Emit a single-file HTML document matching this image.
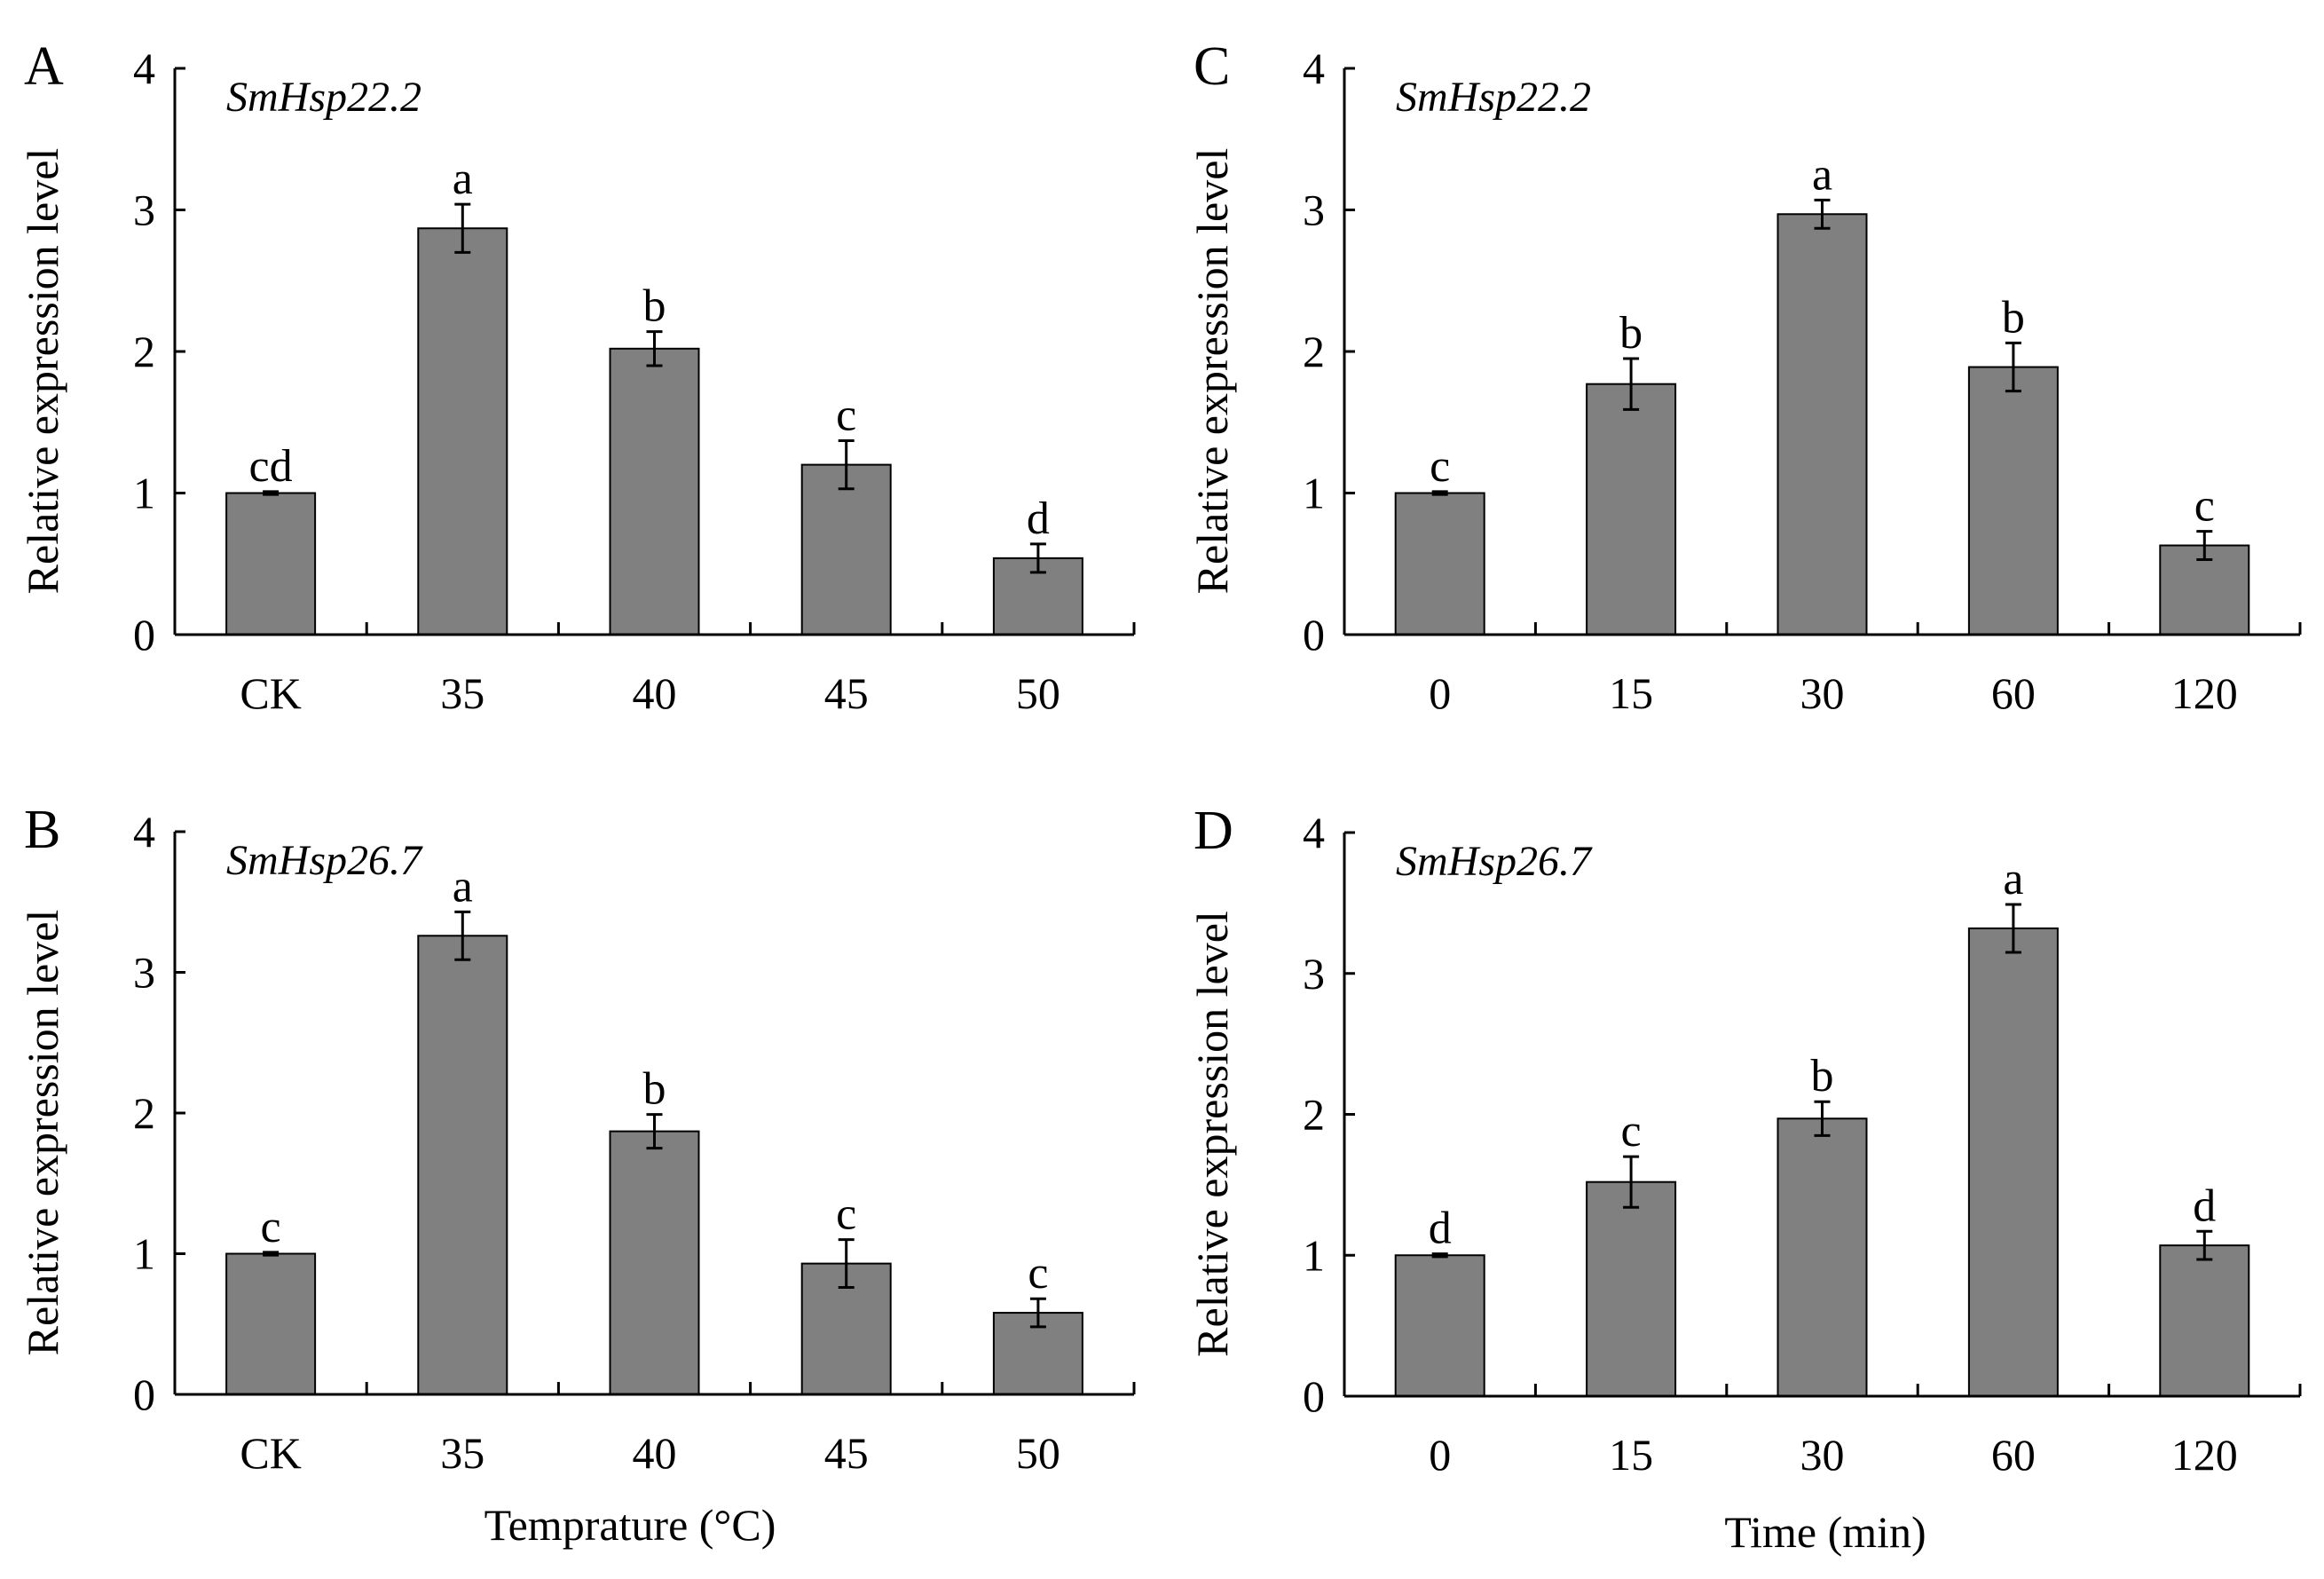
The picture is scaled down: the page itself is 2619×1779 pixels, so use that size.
<!DOCTYPE html>
<html><head><meta charset="utf-8"><style>
body{margin:0;background:#fff}
svg{display:block}
text{font-family:"Liberation Serif",serif;fill:#000}
</style></head><body>
<svg id="fig" width="2619" height="1779" viewBox="0 0 2619 1779"></svg>
<script>
const tempCats = ["CK","35","40","45","50"];
const timeCats = ["0","15","30","60","120"];
const yTicks = [0,1,2,3,4];
const aVals = [1.0,2.87,2.02,1.2,0.54];
const aErr = [0.01,0.17,0.12,0.17,0.1];
const aSig = ["cd","a","b","c","d"];
const bVals = [1.0,3.26,1.87,0.93,0.58];
const bErr = [0.01,0.17,0.12,0.17,0.1];
const bSig = ["c","a","b","c","c"];
const cVals = [1.0,1.77,2.97,1.89,0.63];
const cErr = [0.01,0.18,0.1,0.17,0.1];
const cSig = ["c","b","a","b","c"];
const dVals = [1.0,1.52,1.97,3.32,1.07];
const dErr = [0.01,0.18,0.12,0.17,0.1];
const dSig = ["d","c","b","a","d"];

const NS="http://www.w3.org/2000/svg";
const svg=document.getElementById('fig');
function mk(tag,attrs,parent,txt){const e=document.createElementNS(NS,tag);for(const k in attrs)e.setAttribute(k,attrs[k]);if(txt!==undefined)e.textContent=txt;(parent||svg).appendChild(e);return e;}

function panel(id,letter,gene,cats,vals,errs,sigs,x0,x1,yTop,y0){
  const g=mk('g',{});
  
  
  const ys=v=>y0-(v/4)*(y0-yTop);
  const step=(x1-x0)/cats.length;
  const xs=i=>x0+step*(i+0.5);
  const bw=100;
  vals.forEach((v,i)=>{
    const r=mk('rect',{x:xs(i)-bw/2,y:ys(v),width:bw,height:y0-ys(v),fill:'#808080',stroke:'#000','stroke-width':2},g);
    
    
    const e=errs[i];
    const eg=mk('g',{stroke:'#000','stroke-width':3},g);
    
    
    mk('line',{x1:xs(i),x2:xs(i),y1:ys(v+e),y2:ys(v-e)},eg);
    mk('line',{x1:xs(i)-9,x2:xs(i)+9,y1:ys(v+e),y2:ys(v+e)},eg);
    mk('line',{x1:xs(i)-9,x2:xs(i)+9,y1:ys(v-e),y2:ys(v-e)},eg);
    const s=mk('text',{x:xs(i),y:ys(v+e)-12,'text-anchor':'middle','font-size':52},g,sigs[i]);
    
    
    const c=mk('text',{x:xs(i),y:y0+83,'text-anchor':'middle','font-size':50},g,cats[i]);
    
    
  });
  const ax=mk('g',{stroke:'#000','stroke-width':3,fill:'none'},g);
  
  
  mk('line',{x1:x0,x2:x0,y1:yTop,y2:y0},ax);
  mk('line',{x1:x0,x2:x1,y1:y0,y2:y0},ax);
  for(let i=1;i<=cats.length;i++){mk('line',{x1:x0+step*i,x2:x0+step*i,y1:y0,y2:y0-14},ax);}
  yTicks.forEach(t=>{
    mk('line',{x1:x0,x2:x0+12,y1:ys(t),y2:ys(t)},ax);
    const tl=mk('text',{x:x0-22,y:ys(t)+17,'text-anchor':'end','font-size':50},g,t);
    
    
  });
  const yt=mk('text',{transform:`translate(${x0-132},${(yTop+y0)/2+22}) rotate(-90)`,'text-anchor':'middle','font-size':50},g,'Relative expression level');
  
  
  const pl=mk('text',{x:x0-170,y:yTop+18,'font-size':62},g,letter);
  
  
  const gl=mk('text',{x:x0+58,y:yTop+48,'font-size':48,'font-style':'italic'},g,gene);
  
  
}
panel('a','A','SmHsp22.2',tempCats,aVals,aErr,aSig,197,1278,77,715);
panel('b','B','SmHsp26.7',tempCats,bVals,bErr,bSig,197,1278,937,1571);
panel('c','C','SmHsp22.2',timeCats,cVals,cErr,cSig,1515,2592,77,715);
panel('d','D','SmHsp26.7',timeCats,dVals,dErr,dSig,1515,2592,938,1573);
const xt1=mk('text',{x:710,y:1735,'text-anchor':'middle','font-size':50},svg,'Temprature (°C)');


const xt2=mk('text',{x:2057,y:1743,'text-anchor':'middle','font-size':50},svg,'Time (min)');


</script>
</body></html>
